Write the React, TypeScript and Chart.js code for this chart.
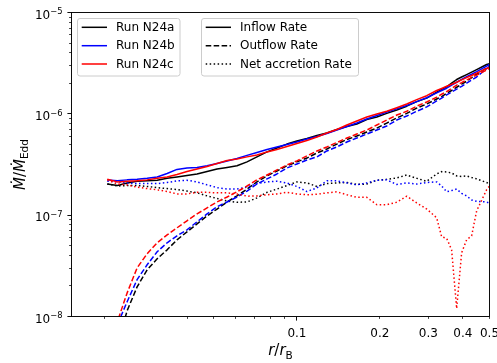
import React, { useEffect, useRef } from "react";
import { Chart, registerables } from "chart.js";

Chart.register(...registerables);

// ---------- data ----------
const radius = [
  0.0205, 0.0223, 0.0242, 0.0263, 0.0286, 0.0311, 0.0338, 0.0367, 0.0399, 0.0434,
  0.0472, 0.0513, 0.0558, 0.0606, 0.0659, 0.0716, 0.0779, 0.0846, 0.092, 0.1,
  0.1087, 0.1182, 0.1284, 0.1396, 0.1518, 0.165, 0.1793, 0.195, 0.2119, 0.2304,
  0.2504, 0.2722, 0.2958, 0.3216, 0.3352, 0.3496, 0.3643, 0.38, 0.3961, 0.413,
  0.4306, 0.449, 0.488, 0.5,
];

const inflowN24a = [
  2.03e-7, 1.96e-7, 2.08e-7, 2.16e-7, 2.18e-7, 2.21e-7, 2.31e-7, 2.38e-7, 2.46e-7, 2.55e-7,
  2.7e-7, 2.86e-7, 2.96e-7, 3.07e-7, 3.36e-7, 3.76e-7, 4.21e-7, 4.6e-7, 5.03e-7, 5.4e-7,
  5.71e-7, 6.11e-7, 6.46e-7, 7.0e-7, 7.5e-7, 7.93e-7, 8.8e-7, 9.31e-7, 1.01e-6, 1.09e-6,
  1.19e-6, 1.32e-6, 1.43e-6, 1.64e-6, 1.74e-6, 1.85e-6, 2.01e-6, 2.18e-6, 2.31e-6, 2.44e-6,
  2.58e-6, 2.73e-6, 3.07e-6, 3.13e-6,
];
const inflowN24b = [
  2.23e-7, 2.18e-7, 2.23e-7, 2.26e-7, 2.31e-7, 2.38e-7, 2.58e-7, 2.83e-7, 2.92e-7, 2.96e-7,
  3.07e-7, 3.24e-7, 3.43e-7, 3.62e-7, 3.89e-7, 4.16e-7, 4.45e-7, 4.71e-7, 4.98e-7, 5.27e-7,
  5.64e-7, 5.97e-7, 6.39e-7, 6.92e-7, 7.5e-7, 8.11e-7, 8.89e-7, 9.63e-7, 1.04e-6, 1.12e-6,
  1.21e-6, 1.32e-6, 1.44e-6, 1.61e-6, 1.7e-6, 1.79e-6, 1.92e-6, 2.05e-6, 2.19e-6, 2.33e-6,
  2.46e-6, 2.61e-6, 2.96e-6, 3.07e-6,
];
const inflowN24c = [
  2.26e-7, 2.13e-7, 2.16e-7, 2.18e-7, 2.23e-7, 2.31e-7, 2.38e-7, 2.52e-7, 2.7e-7, 2.86e-7,
  3.02e-7, 3.24e-7, 3.47e-7, 3.58e-7, 3.76e-7, 3.93e-7, 4.21e-7, 4.45e-7, 4.76e-7, 5.1e-7,
  5.46e-7, 5.9e-7, 6.46e-7, 7.0e-7, 7.76e-7, 8.5e-7, 9.31e-7, 9.95e-7, 1.06e-6, 1.15e-6,
  1.25e-6, 1.38e-6, 1.51e-6, 1.7e-6, 1.78e-6, 1.87e-6, 1.96e-6, 2.05e-6, 2.16e-6, 2.28e-6,
  2.39e-6, 2.52e-6, 2.8e-6, 2.86e-6,
];

const outflowN24a = [
  2.0e-9, 5.3e-9, 1.14e-8, 1.96e-8, 2.89e-8, 3.71e-8, 4.55e-8, 5.71e-8, 6.84e-8, 8.21e-8,
  9.84e-8, 1.15e-7, 1.35e-7, 1.55e-7, 1.81e-7, 2.13e-7, 2.44e-7, 2.73e-7, 3.07e-7, 3.36e-7,
  3.66e-7, 4.11e-7, 4.5e-7, 5.03e-7, 5.58e-7, 6.04e-7, 6.61e-7, 7.24e-7, 8.11e-7, 9.1e-7,
  1.01e-6, 1.14e-6, 1.25e-6, 1.4e-6, 1.48e-6, 1.59e-6, 1.7e-6, 1.83e-6, 1.96e-6, 2.1e-6,
  2.28e-6, 2.46e-6, 2.83e-6, 2.92e-6,
];
const outflowN24b = [
  3.5e-9, 8.3e-9, 1.4e-8, 2.31e-8, 3.24e-8, 4.35e-8, 5.34e-8, 6.25e-8, 7.16e-8, 8.6e-8,
  1.03e-7, 1.21e-7, 1.35e-7, 1.51e-7, 1.73e-7, 2.03e-7, 2.28e-7, 2.55e-7, 2.92e-7, 3.2e-7,
  3.5e-7, 3.76e-7, 4.3e-7, 4.71e-7, 5.27e-7, 5.77e-7, 6.32e-7, 6.92e-7, 7.59e-7, 8.69e-7,
  9.52e-7, 1.06e-6, 1.17e-6, 1.34e-6, 1.43e-6, 1.54e-6, 1.64e-6, 1.75e-6, 1.87e-6, 2.01e-6,
  2.16e-6, 2.31e-6, 2.8e-6, 2.92e-6,
];
const outflowN24c = [
  4.0e-9, 8.9e-9, 1.71e-8, 3.02e-8, 4.16e-8, 5.34e-8, 6.39e-8, 7.5e-8, 8.8e-8, 1.03e-7,
  1.18e-7, 1.35e-7, 1.51e-7, 1.7e-7, 1.94e-7, 2.23e-7, 2.49e-7, 2.79e-7, 3.13e-7, 3.43e-7,
  3.85e-7, 4.3e-7, 4.71e-7, 5.21e-7, 5.77e-7, 6.32e-7, 6.92e-7, 7.76e-7, 8.69e-7, 9.73e-7,
  1.06e-6, 1.19e-6, 1.31e-6, 1.46e-6, 1.56e-6, 1.66e-6, 1.78e-6, 1.92e-6, 2.03e-6, 2.16e-6,
  2.28e-6, 2.41e-6, 2.7e-6, 2.79e-6,
];

const netN24a = [
  2.03e-7, 1.94e-7, 1.96e-7, 1.96e-7, 1.92e-7, 1.87e-7, 1.83e-7, 1.79e-7, 1.73e-7, 1.66e-7,
  1.55e-7, 1.46e-7, 1.38e-7, 1.34e-7, 1.35e-7, 1.48e-7, 1.68e-7, 1.81e-7, 1.96e-7, 2.13e-7,
  2.08e-7, 1.92e-7, 2.05e-7, 2.08e-7, 2.1e-7, 2.01e-7, 2.03e-7, 2.21e-7, 2.26e-7, 2.33e-7,
  2.49e-7, 2.31e-7, 2.16e-7, 2.55e-7, 2.69e-7, 2.67e-7, 2.61e-7, 2.44e-7, 2.41e-7, 2.44e-7,
  2.35e-7, 2.28e-7, 2.1e-7, 2.03e-7,
];
const netN24b = [
  2.16e-7, 2.13e-7, 2.08e-7, 2.05e-7, 2.05e-7, 2.05e-7, 2.1e-7, 2.18e-7, 2.21e-7, 2.13e-7,
  1.99e-7, 1.87e-7, 1.81e-7, 1.81e-7, 1.89e-7, 2.05e-7, 2.13e-7, 2.16e-7, 2.08e-7, 1.92e-7,
  1.71e-7, 1.86e-7, 2.18e-7, 2.18e-7, 2.08e-7, 1.99e-7, 2.08e-7, 2.21e-7, 2.23e-7, 2.01e-7,
  2.08e-7, 2.03e-7, 2.1e-7, 2.13e-7, 1.94e-7, 1.7e-7, 1.75e-7, 1.81e-7, 1.64e-7, 1.55e-7,
  1.41e-7, 1.37e-7, 1.35e-7, 1.31e-7,
];
const netN24c = [
  2.23e-7, 2.03e-7, 1.99e-7, 1.89e-7, 1.83e-7, 1.78e-7, 1.71e-7, 1.62e-7, 1.62e-7, 1.68e-7,
  1.68e-7, 1.66e-7, 1.66e-7, 1.62e-7, 1.54e-7, 1.55e-7, 1.59e-7, 1.62e-7, 1.68e-7, 1.62e-7,
  1.59e-7, 1.61e-7, 1.66e-7, 1.7e-7, 1.59e-7, 1.5e-7, 1.5e-7, 1.27e-7, 1.27e-7, 1.34e-7,
  1.54e-7, 1.32e-7, 1.15e-7, 9.41e-8, 6.11e-8, 5.9e-8, 4.55e-8, 1.2e-8, 4.25e-8, 5.71e-8,
  6.25e-8, 1.1e-7, 1.78e-7, 1.94e-7,
];

const runNames = ["Run N24a", "Run N24b", "Run N24c"];
const runColors = ["#000000", "#0000ff", "#ff0000"];
const rateNames = ["Inflow Rate", "Outflow Rate", "Net accretion Rate"];
const rateDashes: number[][] = [[], [5.55, 2.4], [1.5, 2.475]];

const xMin = 0.0152;
const xMax = 0.5;
const yMin = 1e-8;
const yMax = 1e-5;
const xMajorTicks = [0.1];
const xMinorTicks = [0.02, 0.03, 0.04, 0.05, 0.06, 0.07, 0.08, 0.09, 0.2, 0.3, 0.4, 0.5];
const xLabelValues = [0.1, 0.2, 0.3, 0.4, 0.5];
const xLabelTexts = ["0.1", "0.2", "0.3", "0.4", "0.5"];
const yMajorTicks = [1e-8, 1e-7, 1e-6, 1e-5];
const yLabelExponents = ["\u22128", "\u22127", "\u22126", "\u22125"];
const yMinorMantissas = [2, 3, 4, 5, 6, 7, 8, 9];

const FONT = '"DejaVu Sans", "Liberation Sans", sans-serif';

const seriesByRun = [
  [inflowN24a, outflowN24a, netN24a],
  [inflowN24b, outflowN24b, netN24b],
  [inflowN24c, outflowN24c, netN24c],
];

function makeDatasets() {
  const ds: any[] = [];
  seriesByRun.forEach((series, run) => {
    series.forEach((vals, type) => {
      ds.push({
        label: runNames[run] + " " + rateNames[type],
        data: radius.map((r, i) => ({ x: r, y: vals[i] })),
        borderColor: runColors[run],
        backgroundColor: runColors[run],
        borderDash: rateDashes[type],
        borderWidth: 1.5,
        borderCapStyle: "butt",
        borderJoinStyle: "round",
        pointRadius: 0,
        fill: false,
        tension: 0,
        order: 20 - (run * 3 + type),
      });
    });
  });
  return ds;
}

function drawPieces(ctx: CanvasRenderingContext2D, pieces: { t: string; font: string; dy: number }[], cx: number, baseY: number) {
  let total = 0;
  const widths = pieces.map((p) => {
    ctx.font = p.font;
    const w = ctx.measureText(p.t).width;
    total += w;
    return w;
  });
  let x = cx - total / 2;
  ctx.textAlign = "left";
  ctx.textBaseline = "alphabetic";
  pieces.forEach((p, i) => {
    ctx.font = p.font;
    ctx.fillText(p.t, x, baseY + p.dy);
    x += widths[i];
  });
}

function roundRect(ctx: CanvasRenderingContext2D, x: number, y: number, w: number, h: number, r: number) {
  ctx.beginPath();
  ctx.moveTo(x + r, y);
  ctx.lineTo(x + w - r, y);
  ctx.arcTo(x + w, y, x + w, y + r, r);
  ctx.lineTo(x + w, y + h - r);
  ctx.arcTo(x + w, y + h, x + w - r, y + h, r);
  ctx.lineTo(x + r, y + h);
  ctx.arcTo(x, y + h, x, y + h - r, r);
  ctx.lineTo(x, y + r);
  ctx.arcTo(x, y, x + r, y, r);
  ctx.closePath();
}

const decorPlugin = {
  id: "decor",
  afterDraw(chart: any) {
    const ctx: CanvasRenderingContext2D = chart.ctx;
    const ca = chart.chartArea;
    const xs = chart.scales.x;
    const ys = chart.scales.y;
    ctx.save();
    ctx.fillStyle = "#000";
    ctx.strokeStyle = "#000";

    // frame
    ctx.lineWidth = 0.95;
    ctx.setLineDash([]);
    ctx.strokeRect(ca.left, ca.top, ca.right - ca.left, ca.bottom - ca.top);

    // x ticks
    const snap = (v: number) => Math.round(v - 0.5) + 0.5;
    ctx.lineWidth = 0.95;
    xMajorTicks.forEach((v) => {
      const px = snap(xs.getPixelForValue(v));
      ctx.beginPath();
      ctx.moveTo(px, ca.bottom);
      ctx.lineTo(px, ca.bottom + 4.1);
      ctx.stroke();
    });
    ctx.lineWidth = 0.75;
    xMinorTicks.forEach((v) => {
      const px = snap(xs.getPixelForValue(v));
      ctx.beginPath();
      ctx.moveTo(px, ca.bottom);
      ctx.lineTo(px, ca.bottom + 2.4);
      ctx.stroke();
    });
    // y ticks
    ctx.lineWidth = 0.95;
    yMajorTicks.forEach((v) => {
      const py = snap(ys.getPixelForValue(v));
      ctx.beginPath();
      ctx.moveTo(ca.left, py);
      ctx.lineTo(ca.left - 4.1, py);
      ctx.stroke();
    });
    ctx.lineWidth = 0.75;
    yMajorTicks.slice(0, 3).forEach((dec) => {
      yMinorMantissas.forEach((m) => {
        const py = snap(ys.getPixelForValue(m * dec));
        ctx.beginPath();
        ctx.moveTo(ca.left, py);
        ctx.lineTo(ca.left - 2.4, py);
        ctx.stroke();
      });
    });

    // x tick labels
    ctx.font = "12px " + FONT;
    ctx.textAlign = "center";
    ctx.textBaseline = "alphabetic";
    xLabelValues.forEach((v, i) => {
      ctx.fillText(xLabelTexts[i], xs.getPixelForValue(v), 336.5);
    });

    // y tick labels 10^n
    yMajorTicks.forEach((v, i) => {
      const py = ys.getPixelForValue(v);
      ctx.font = "12px " + FONT;
      const bw = ctx.measureText("10").width;
      ctx.font = "8.4px " + FONT;
      const sw = ctx.measureText(yLabelExponents[i]).width;
      const right = 62.5;
      const x0 = right - sw - bw;
      ctx.textAlign = "left";
      ctx.font = "12px " + FONT;
      ctx.fillText("10", x0, py + 6.3);
      ctx.font = "8.4px " + FONT;
      ctx.fillText(yLabelExponents[i], x0 + bw, py + 1.8);
    });

    // x axis title r/r_B
    drawPieces(
      ctx,
      [
        { t: "r", font: "italic 15px " + FONT, dy: 0 },
        { t: "/", font: "15px " + FONT, dy: 0 },
        { t: "r", font: "italic 15px " + FONT, dy: 0 },
        { t: "B", font: "10.5px " + FONT, dy: 3.5 },
      ],
      (ca.left + ca.right) / 2,
      355
    );

    // y axis title  Mdot / Mdot_Edd
    ctx.save();
    ctx.translate(24.5, (ca.top + ca.bottom) / 2);
    ctx.rotate(-Math.PI / 2);
    drawPieces(
      ctx,
      [
        { t: "\u1E40", font: "italic 15px " + FONT, dy: 0 },
        { t: "/", font: "15px " + FONT, dy: 0 },
        { t: "\u1E40", font: "italic 15px " + FONT, dy: 0 },
        { t: "Edd", font: "10.5px " + FONT, dy: 3.5 },
      ],
      0,
      0
    );
    ctx.restore();

    // legends
    const drawLegend = (bx: number, labels: string[], colors: string[], dashes: number[][], width: number) => {
      const by = 18.5;
      const bh = 57.5;
      ctx.save();
      roundRect(ctx, bx, by, width, bh, 2.5);
      ctx.fillStyle = "rgba(255,255,255,0.8)";
      ctx.fill();
      ctx.strokeStyle = "#cccccc";
      ctx.lineWidth = 1;
      ctx.setLineDash([]);
      ctx.stroke();
      const rows = [27.3, 45.7, 64];
      labels.forEach((lab, i) => {
        ctx.strokeStyle = colors[i];
        ctx.lineWidth = 1.5;
        ctx.lineCap = "butt";
        ctx.setLineDash(dashes[i]);
        ctx.beginPath();
        ctx.moveTo(bx + 4.2, rows[i]);
        ctx.lineTo(bx + 29.5, rows[i]);
        ctx.stroke();
        ctx.setLineDash([]);
        ctx.fillStyle = "#000";
        ctx.font = "12px " + FONT;
        ctx.textAlign = "left";
        ctx.textBaseline = "middle";
        ctx.fillText(lab, bx + 38.5, rows[i] + 0.5);
      });
      ctx.restore();
    };
    drawLegend(77.5, runNames, runColors, [[], [], []], 102.5);
    drawLegend(201.5, rateNames, ["#000", "#000", "#000"], rateDashes, 157);

    ctx.restore();
  },
};

export default function App() {
  const canvasRef = useRef<HTMLCanvasElement | null>(null);

  useEffect(() => {
    const canvas = canvasRef.current;
    if (!canvas) return;
    const chart = new Chart(canvas, {
      type: "line",
      data: { datasets: makeDatasets() },
      options: {
        animation: false,
        responsive: false,
        devicePixelRatio: 1,
        events: [],
        layout: { padding: { left: 71.5, top: 12.5, right: 7.5, bottom: 46.5 } },
        plugins: { legend: { display: false }, tooltip: { enabled: false } },
        scales: {
          x: { type: "logarithmic", min: xMin, max: xMax, display: false },
          y: { type: "logarithmic", min: yMin, max: yMax, display: false },
        },
      },
      plugins: [decorPlugin],
    } as any);
    return () => chart.destroy();
  }, []);

  return (
    <div style={{ position: "fixed", left: 0, top: 0, width: 497, height: 363, background: "#fff" }}>
      <canvas ref={canvasRef} width={497} height={363} style={{ display: "block" }} />
    </div>
  );
}
